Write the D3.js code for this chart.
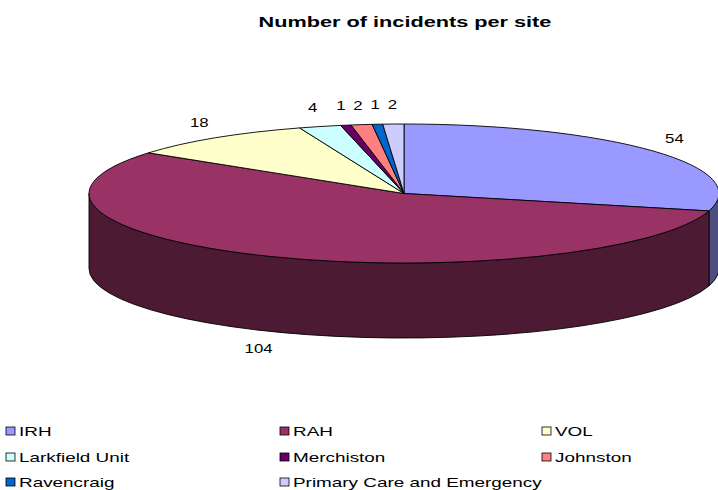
<!DOCTYPE html>
<html><head><meta charset="utf-8">
<script src="https://cdn.jsdelivr.net/npm/d3@7/dist/d3.min.js"></script>
<style>body{margin:0;background:#fff}svg{display:block;font-family:Arial,"Liberation Sans",sans-serif}</style>
</head><body><svg id="c" width="718" height="490"></svg>
<script>
const categories = ["IRH","RAH","VOL","Larkfield Unit","Merchiston","Johnston","Ravencraig","Primary Care and Emergency"];
const values = [54,104,18,4,1,2,1,2];
const colors = ["#9999FF","#993366","#FFFFCC","#CCFFFF","#660066","#FF8080","#0066CC","#CCCCFF"];
const titleText = "Number of incidents per site";

const svg = d3.select("#c");
const cx = 404, cy = 193.5, rx = 315, ry = 69.5, depth = 75;
const SX = 1.4; // horizontal stretch of text in reference
const data = categories.map((c,i)=>({name:c, value:values[i], color:colors[i]}));
const arcs = d3.pie().sort(null).value(d=>d.value)(data);

const pt = (a, dy=0) => [cx + rx*Math.sin(a), cy - ry*Math.cos(a) + dy];
function topPath(a0,a1){
  const p0 = pt(a0), p1 = pt(a1);
  const large = (a1-a0) > Math.PI ? 1 : 0;
  return `M${cx},${cy}L${p0[0]},${p0[1]}A${rx},${ry} 0 ${large} 1 ${p1[0]},${p1[1]}Z`;
}
function sidePath(a0,a1){
  const s = Math.max(a0, Math.PI/2), e = Math.min(a1, 3*Math.PI/2);
  if (s >= e) return null;
  const p0 = pt(s), p1 = pt(e), q1 = pt(e,depth), q0 = pt(s,depth);
  return `M${p0[0]},${p0[1]}A${rx},${ry} 0 0 1 ${p1[0]},${p1[1]}L${q1[0]},${q1[1]}A${rx},${ry} 0 0 0 ${q0[0]},${q0[1]}Z`;
}
const shade = c => { const r = d3.rgb(c); return d3.rgb(r.r*0.5, r.g*0.5, r.b*0.5).formatHex(); };

const g = svg.append("g");
arcs.forEach(a=>{
  const p = sidePath(a.startAngle, a.endAngle);
  if (p) g.append("path").attr("d", p).attr("fill", shade(a.data.color))
    .attr("stroke","#000").attr("stroke-width",0.9).attr("stroke-linejoin","round");
});
arcs.forEach(a=>{
  g.append("path").attr("d", topPath(a.startAngle, a.endAngle))
    .attr("fill", a.data.color).attr("stroke","#000").attr("stroke-width",0.9).attr("stroke-linejoin","round");
});

function stretchedText(x, y, txt, size, opts={}){
  const t = svg.append("text")
    .attr("transform", `translate(${x},${y}) scale(${SX},1)`)
    .attr("font-size", size).attr("fill","#000").text(txt);
  if (opts.anchor) t.attr("text-anchor", opts.anchor);
  if (opts.bold) t.attr("font-weight","bold");
  return t;
}

// data labels
const rxL = 342, ryL = 89;
arcs.forEach(a=>{
  const m = (a.startAngle + a.endAngle)/2;
  let x = cx + rxL*Math.sin(m), y = cy - ryL*Math.cos(m);
  if (Math.cos(m) < 0) y += depth;
  stretchedText(x, y + 4.3, a.data.value, 12, {anchor:"middle"});
});

// title
stretchedText(405, 26.5, titleText, 15.5, {anchor:"middle", bold:true});

// legend
const colX = [6, 280, 542], rowY = [431, 457, 482];
data.forEach((d,i)=>{
  const x = colX[i%3], y = rowY[Math.floor(i/3)];
  svg.append("rect").attr("x",x).attr("y",y-4).attr("width",9).attr("height",8)
    .attr("fill",d.color).attr("stroke","#000").attr("stroke-width",0.8);
  stretchedText(x+13, y+4.8, d.name, 13.5);
});
</script></body></html>
